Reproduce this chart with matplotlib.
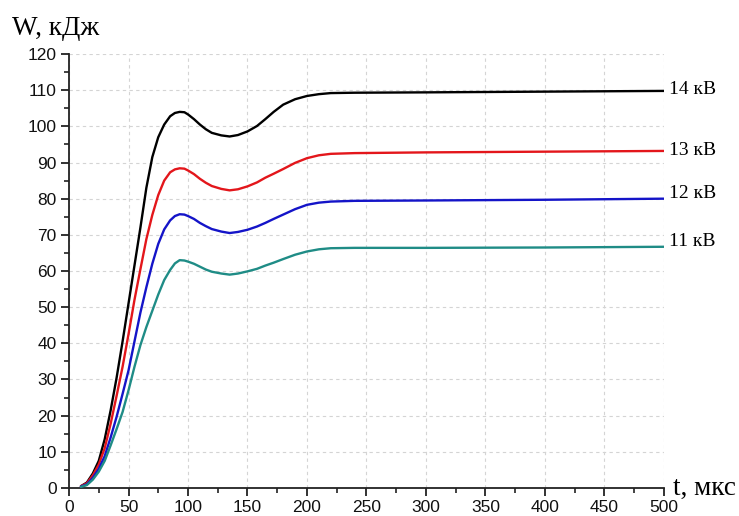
import matplotlib.pyplot as plt
from matplotlib.ticker import MultipleLocator

# time, mks
t = [10, 15, 20, 25, 30, 35, 40, 45, 50, 55, 60, 65, 70, 75, 80, 85, 89, 93, 97,
     100, 105, 110, 115, 120, 128, 135, 142, 150, 158, 165, 172, 180, 190, 200, 210,
     220, 240, 300, 400, 500]

# energy, kJ
w14 = [0.5, 1.5, 4, 7.5, 13.5, 21.5, 30.5, 40.5, 51, 61.5, 72, 83, 91.5, 97, 100.5, 102.8, 103.7, 104, 103.9,
       103.3, 102, 100.5, 99.2, 98.2, 97.5, 97.2, 97.6, 98.6, 100.1, 102, 104, 106, 107.5, 108.4, 108.9,
       109.2, 109.3, 109.4, 109.6, 109.8]
w13 = [0.5, 1.3, 3.5, 6.5, 11, 17.8, 25.5, 33.5, 42.5, 52, 60.5, 68.8, 75.5, 81, 85, 87.3, 88.1, 88.4, 88.3,
       87.8, 86.8, 85.5, 84.4, 83.5, 82.7, 82.3, 82.6, 83.4, 84.5, 85.8, 86.9, 88.2, 89.9, 91.2, 92,
       92.4, 92.6, 92.8, 93, 93.2]
w12 = [0.4, 1, 2.8, 5.3, 8.8, 14, 19.7, 26, 32.5, 40.5, 48.5, 55.5, 62, 67.5, 71.5, 74, 75.2, 75.7, 75.6,
       75.2, 74.4, 73.3, 72.4, 71.6, 70.9, 70.5, 70.8, 71.4, 72.3, 73.3, 74.4, 75.6, 77.1, 78.3, 78.9,
       79.2, 79.4, 79.5, 79.7, 80]
w11 = [0.3, 0.8, 2.3, 4.5, 7.5, 11.8, 16.3, 21, 27, 33.5, 39.5, 44.5, 49, 53.5, 57.5, 60.3, 62.1, 63, 62.9,
       62.6, 62, 61.2, 60.4, 59.8, 59.3, 59, 59.3, 59.9, 60.6, 61.5, 62.3, 63.3, 64.5, 65.4, 66,
       66.3, 66.4, 66.4, 66.5, 66.7]

labels = ['14 кВ', '13 кВ', '12 кВ', '11 кВ']
series = [w14, w13, w12, w11]
colors = ['#000000', '#e3161b', '#1414c8', '#1f8c86']
label_dy = [1, 0, 4, 4]  # points

fig = plt.figure(figsize=(7.39, 5.16), dpi=100)
ax = fig.add_axes([0.0934, 0.0543, 0.805, 0.841])

for w, c in zip(series, colors):
    ax.plot(t, w, color=c, lw=1.7, solid_capstyle='round', solid_joinstyle='round', zorder=3)

for w, lab, dy in zip(series, labels, label_dy):
    ax.annotate(lab, xy=(t[-1], w[-1]), xytext=(4, dy), textcoords='offset points',
                ha='left', va='center', fontsize=14, family='Liberation Serif',
                annotation_clip=False)

ax.set_xlim(0, 500)
ax.set_ylim(0, 120)
ax.xaxis.set_major_locator(MultipleLocator(50))
ax.xaxis.set_minor_locator(MultipleLocator(25))
ax.yaxis.set_major_locator(MultipleLocator(10))
ax.yaxis.set_minor_locator(MultipleLocator(5))

ax.grid(True, which='major', color='#d4d4d4', ls=(0, (3, 3)), lw=0.8)
ax.get_ygridlines()[-1].set_visible(False)
for s in ['top', 'right']:
    ax.spines[s].set_visible(False)
for s in ['left', 'bottom']:
    ax.spines[s].set_linewidth(1.3)
    ax.spines[s].set_color('#222222')

ax.tick_params(which='major', direction='out', length=6, width=1.3, labelsize=12.5,
               colors='#222222', labelcolor='#111111', pad=3)
ax.tick_params(which='minor', direction='out', length=3.5, width=1.2, colors='#222222')
for lbl in ax.get_xticklabels() + ax.get_yticklabels():
    lbl.set_family('Liberation Sans')

fig.text(12 / 739, 1 - 35 / 516, 'W, кДж', fontsize=19.5, family='Liberation Serif',
         ha='left', va='baseline')
fig.text(673 / 739, 1 - 495 / 516, 't, мкс', fontsize=19.5, family='Liberation Serif',
         ha='left', va='baseline')

fig.savefig('out.png', dpi=100)
